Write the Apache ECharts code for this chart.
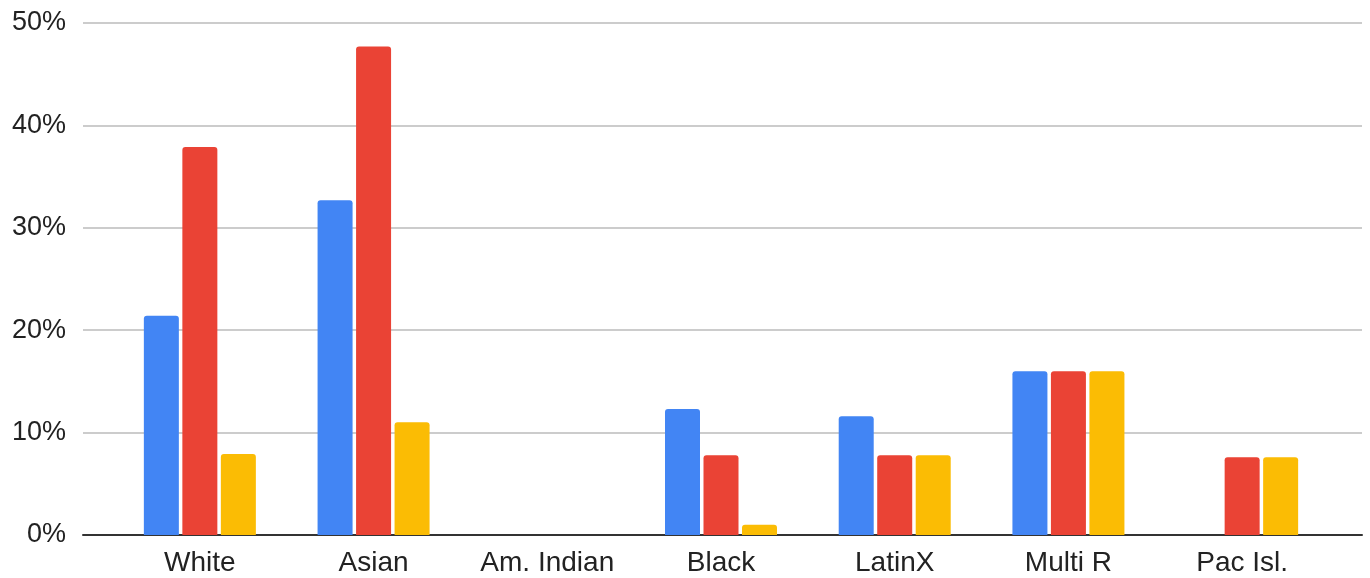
<!DOCTYPE html>
<html>
<head>
<meta charset="utf-8">
<script src="https://cdn.jsdelivr.net/npm/echarts@6/dist/echarts.min.js"></script>
<style>
  html, body { margin: 0; padding: 0; background: #fff; }
  #chart { width: 1370px; height: 578px; }
</style>
</head>
<body>
<div id="chart"></div>
<script>
// Share of each group, in percent, for three series
const categories = ['White', 'Asian', 'Am. Indian', 'Black', 'LatinX', 'Multi R', 'Pac Isl.'];
const seriesBlue = [21.4, 32.7, 0, 12.3, 11.6, 16.0, 0];
const seriesRed = [37.9, 47.7, 0, 7.8, 7.8, 16.0, 7.6];
const seriesYellow = [7.9, 11.0, 0, 1.0, 7.8, 16.0, 7.6];
const yTicks = [0, 10, 20, 30, 40, 50];

const FONT = '"Liberation Sans", Arial, sans-serif';
const yMin = yTicks[0];
const yMax = yTicks[yTicks.length - 1];
const yStep = yTicks[1] - yTicks[0];

const chart = echarts.init(document.getElementById('chart'), null, { renderer: 'canvas' });

function bar(name, data, color) {
  return {
    name: name,
    type: 'bar',
    xAxisIndex: 1,
    yAxisIndex: 1,
    data: data,
    barWidth: 35,
    barGap: '10%',
    itemStyle: { color: color, borderRadius: [3, 3, 0, 0] },
    emphasis: { disabled: true }
  };
}

chart.setOption({
  animation: false,
  backgroundColor: '#ffffff',
  grid: [
    // full-width frame: gridlines and baseline
    { left: 83, right: 8, top: 23, bottom: 43, containLabel: false },
    // inner band holding the bars and category labels
    { left: 113, right: 41, top: 23, bottom: 43, containLabel: false }
  ],
  xAxis: [
    {
      gridIndex: 0,
      type: 'category',
      data: categories,
      axisLine: { show: true, lineStyle: { color: '#333333', width: 2 } },
      axisTick: { show: false },
      axisLabel: { show: false },
      splitLine: { show: false }
    },
    {
      gridIndex: 1,
      type: 'category',
      data: categories,
      axisLine: { show: false },
      axisTick: { show: false },
      axisLabel: {
        interval: 0, hideOverlap: false,
        color: '#222222', fontSize: 28, fontFamily: FONT, margin: 14
      },
      splitLine: { show: false }
    }
  ],
  yAxis: [
    {
      gridIndex: 0,
      type: 'value',
      min: yMin,
      max: yMax,
      interval: yStep,
      axisLine: { show: false },
      axisTick: { show: false },
      axisLabel: {
        color: '#222222', fontSize: 27, fontFamily: FONT, margin: 17,
        formatter: v => v + '%'
      },
      splitLine: { show: true, lineStyle: { color: '#cccccc', width: 2 } }
    },
    {
      gridIndex: 1,
      type: 'value',
      min: yMin,
      max: yMax,
      interval: yStep,
      show: false,
      splitLine: { show: false }
    }
  ],
  series: [
    bar('Blue', seriesBlue, '#4285F4'),
    bar('Red', seriesRed, '#EA4335'),
    bar('Yellow', seriesYellow, '#FBBC04')
  ]
});
</script>
</body>
</html>
